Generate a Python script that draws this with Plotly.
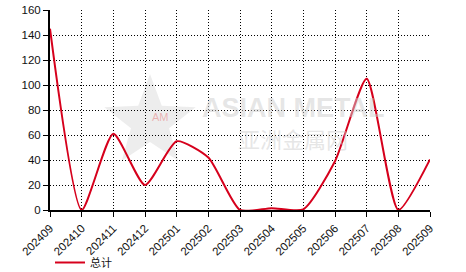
import math
import plotly.graph_objects as go

categories = ["202409", "202410", "202411", "202412", "202501", "202502", "202503",
              "202504", "202505", "202506", "202507", "202508", "202509"]
values = [145, 0, 61, 20, 55, 42, 0, 1.5, 0.5, 39, 105, 0, 40.5]
series_name = "总计"
y_ticks = [0, 20, 40, 60, 80, 100, 120, 140, 160]

W, H = 466, 272
ML, MR, MT, MB = 50, 36, 10, 62
PW, PH = W - ML - MR, H - MT - MB


def px_to_paper(px, py):
    return (px - ML) / PW, (H - MB - py) / PH


fig = go.Figure()

# watermark star (decoration)
cx, cy, R, r = 150, 122, 48, 20
pts = []
for i in range(10):
    ang = math.pi / 2 + i * math.pi / 5
    rad = R if i % 2 == 0 else r
    pts.append(px_to_paper(cx + rad * math.cos(ang), cy - rad * math.sin(ang)))
path = "M " + " L ".join(f"{x:.4f},{y:.4f}" for x, y in pts) + " Z"
fig.add_shape(type="path", path=path, xref="paper", yref="paper",
              fillcolor="rgba(215,215,215,0.45)", line=dict(width=0), layer="below")

fig.add_trace(go.Scatter(
    x=categories, y=values, mode="lines", name=series_name,
    line=dict(color="#d6001c", width=2, shape="spline", smoothing=0.6),
))

font = dict(family="Liberation Sans, Arial, sans-serif", size=11.5, color="#111")

ax, ay = px_to_paper(150, 117)
fig.add_annotation(x=ax, y=ay, xref="paper", yref="paper", text="AM",
                   showarrow=False, font=dict(family="Liberation Sans", size=11, color="rgba(230,120,120,0.5)"))
ax, ay = px_to_paper(293, 108)
fig.add_annotation(x=ax, y=ay, xref="paper", yref="paper", text="<b>ASIAN METAL</b>",
                   showarrow=False, font=dict(family="Liberation Sans", size=27, color="rgba(205,205,205,0.5)"))
ax, ay = px_to_paper(293, 138)
fig.add_annotation(x=ax, y=ay, xref="paper", yref="paper", text="亚洲金属网",
                   showarrow=False, font=dict(family="Noto Sans CJK SC", size=22, color="rgba(205,205,205,0.5)"))

fig.update_layout(
    width=W, height=H,
    margin=dict(l=ML, r=MR, t=MT, b=MB, autoexpand=False),
    paper_bgcolor="white", plot_bgcolor="white",
    font=font,
    showlegend=True,
    legend=dict(orientation="h", x=0.0, y=-0.19, xanchor="left", yanchor="top",
                font=dict(family="Noto Sans CJK SC", size=11, color="#111"),
                bgcolor="rgba(0,0,0,0)"),
    xaxis=dict(
        type="category", range=[0, 12], showgrid=True, gridcolor="black",
        griddash="1px,2px", gridwidth=1, showline=True, linecolor="black", linewidth=2,
        ticks="outside", ticklen=5, tickcolor="black", tickangle=-45,
        tickfont=font, zeroline=False, mirror=False, automargin=False,
    ),
    yaxis=dict(
        range=[0, 160], tickvals=y_ticks, showgrid=True, gridcolor="black",
        griddash="1px,2px", gridwidth=1, showline=True, linecolor="black", linewidth=2,
        ticks="outside", ticklen=5, tickcolor="black", tickfont=font, zeroline=False,
        automargin=False,
    ),
)

fig.write_html("out.html")
